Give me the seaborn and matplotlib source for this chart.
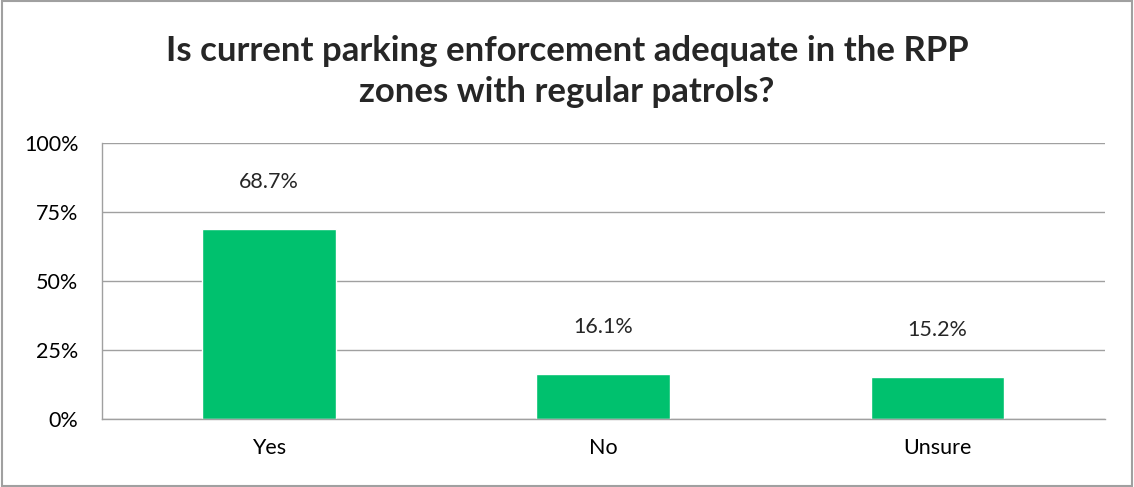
import matplotlib
matplotlib.use("Agg")
import matplotlib.pyplot as plt
import seaborn as sns
import pandas as pd
from matplotlib.patches import Rectangle
from matplotlib.ticker import FuncFormatter

# Datos del grafico
categories = ["Yes", "No", "Unsure"]
shares = [68.7, 16.1, 15.2]
value_labels = ["68.7%", "16.1%", "15.2%"]
y_ticks = [0, 25, 50, 75, 100]

df = pd.DataFrame({"answer": categories, "share": shares})

sns.set_style("white")
plt.rcParams["font.family"] = ["Lato", "DejaVu Sans"]

fig = plt.figure(figsize=(11.34, 4.87), dpi=100)
ax = fig.add_axes([0.090, 0.140, 0.884, 0.566])

sns.barplot(data=df, x="answer", y="share", color="#00C16E", saturation=1,
            width=0.4, ax=ax)

ax.set_ylim(0, 100)
ax.set_yticks(y_ticks)
ax.yaxis.set_major_formatter(FuncFormatter(lambda v, p: f"{v:.0f}%"))
ax.yaxis.grid(True, color="#A0A0A0", linewidth=1)
ax.set_axisbelow(True)
ax.set_xlabel("")
ax.set_ylabel("")
ax.tick_params(axis="both", labelsize=15.5, length=0, colors="black")
ax.tick_params(axis="y", pad=17)
ax.tick_params(axis="x", pad=14)

for side in ["top", "right"]:
    ax.spines[side].set_visible(False)
for side in ["left", "bottom"]:
    ax.spines[side].set_color("#A0A0A0")
    ax.spines[side].set_linewidth(1)

for i, (v, lab) in enumerate(zip(shares, value_labels)):
    ax.annotate(lab, (i, v), xytext=(0, 34), textcoords="offset points",
                ha="center", va="center", fontsize=15.5)

fig.text(0.5, 0.853, "Is current parking enforcement adequate in the RPP\nzones with regular patrols?",
         ha="center", va="center", fontsize=25, fontweight="bold", linespacing=1.32)

# Borde del area del grafico
fig.patches.append(Rectangle((0.002, 0.002), 0.996, 0.996, transform=fig.transFigure,
                             fill=False, edgecolor="#A0A0A0", linewidth=1.5))

fig.savefig("out.png", dpi=100)
